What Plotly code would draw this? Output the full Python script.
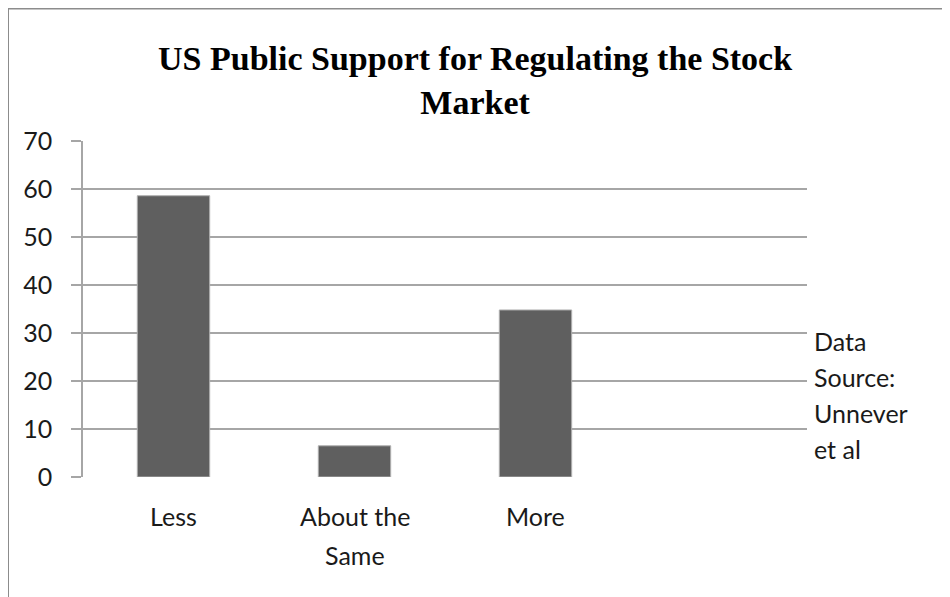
import plotly.graph_objects as go

categories = ["Less", "About the Same", "More", ""]
values = [58.6, 6.5, 34.8, None]
label_lines = [["Less"], ["About the", "Same"], ["More"], []]
y_ticks = [0, 10, 20, 30, 40, 50, 60, 70]
source_lines = ["Data", "Source:", "Unnever", "et al"]
title_text = "<b>US Public Support for Regulating the Stock<br>Market</b>"

# page body has an 8px margin; figure sized to fit the window
W, H = 942, 589
L, R, T, B = 75, 143, 133, 120
ph = H - T - B
pw = W - L - R

fig = go.Figure()
fig.add_trace(go.Bar(
    x=categories, y=values, width=0.4,
    marker=dict(color="#5f5f5f", line=dict(color="#b0b0b0", width=1)),
    showlegend=False,
))

tick_font = dict(family="Lato", size=25, color="#1a1a1a")

annotations = []
# title
annotations.append(dict(
    x=(467 - L) / pw, xref="paper", y=(ph + T - 73) / ph, yref="paper",
    text=title_text, showarrow=False,
    font=dict(family="Liberation Serif", size=34, color="black"),
    xanchor="center", yanchor="middle", align="center",
))
# category labels (wrapped lines)
for cat, lines in zip(categories, label_lines):
    for i, ln in enumerate(lines):
        annotations.append(dict(
            x=cat, xref="x", y=-(38.5 + 39.5 * i) / ph, yref="paper",
            text=ln, showarrow=False, font=tick_font,
            xanchor="center", yanchor="middle",
        ))
# data source note
for i, ln in enumerate(source_lines):
    annotations.append(dict(
        x=(804 - L) / pw, xref="paper", y=(136 - 36 * i) / ph, yref="paper",
        text=ln, showarrow=False, font=tick_font,
        xanchor="left", yanchor="middle",
    ))

fig.update_layout(
    width=W, height=H,
    margin=dict(l=L, r=R, t=T, b=B),
    paper_bgcolor="white", plot_bgcolor="white",
    xaxis=dict(
        type="category", range=[-0.5, 3.5],
        showticklabels=False, showgrid=False, zeroline=False,
        showline=False, ticks="",
    ),
    yaxis=dict(
        range=[0, 70], tickvals=y_ticks, ticktext=[str(v) for v in y_ticks],
        showgrid=True, gridcolor="#a6a6a6", gridwidth=1.5,
        showline=True, linecolor="#a6a6a6", linewidth=1.5,
        ticks="outside", ticklen=10, tickcolor="#a6a6a6", tickwidth=1.5,
        tickfont=tick_font, ticklabelstandoff=14,
        zeroline=False,
    ),
    annotations=annotations,
    shapes=[dict(
        type="rect", xref="paper", yref="paper",
        x0=(0 - L) / pw, x1=(W + 20 - L) / pw,
        y0=(ph + T - H - 20) / ph, y1=(ph + T - 0.5) / ph,
        line=dict(color="#8c8c8c", width=2), fillcolor="rgba(0,0,0,0)",
        layer="below",
    )],
)

fig.write_html("out.html")
